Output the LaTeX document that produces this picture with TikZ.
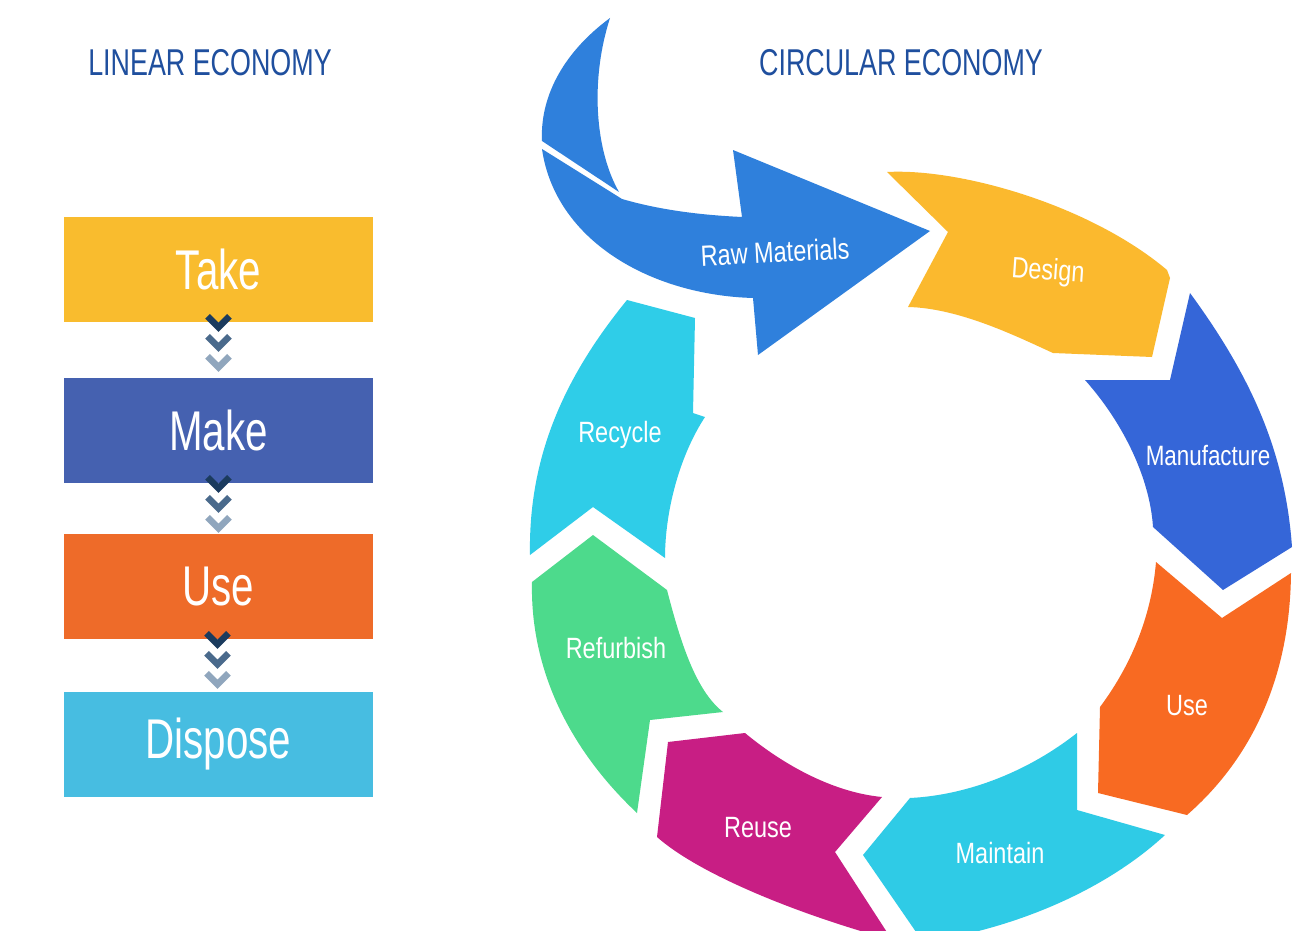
\documentclass[tikz,border=0pt]{standalone}
\usepackage{fontspec}
\setmainfont{Liberation Sans}
\newfontfamily\condA[FakeStretch=0.72]{Liberation Sans}
\newfontfamily\condB[FakeStretch=0.8]{Liberation Sans}
\usetikzlibrary{calc}
\definecolor{titlec}{HTML}{1F4F9E}
\definecolor{takec}{HTML}{F9BC2E}
\definecolor{makec}{HTML}{4561B0}
\definecolor{usebc}{HTML}{EE6B29}
\definecolor{disposec}{HTML}{47BDE1}
\definecolor{rawc}{HTML}{2F80DC}
\definecolor{designc}{HTML}{FBB92E}
\definecolor{manuc}{HTML}{3566D8}
\definecolor{usec}{HTML}{F86A22}
\definecolor{maintc}{HTML}{2FCBE6}
\definecolor{reusec}{HTML}{C81E84}
\definecolor{refurbc}{HTML}{4DDA8C}
\definecolor{recyc}{HTML}{2FCDE8}
\definecolor{chevA}{HTML}{1B3B5E}
\definecolor{chevB}{HTML}{4A6A8C}
\definecolor{chevC}{HTML}{90A6BD}
\tikzset{
  box/.style={minimum width=231.75pt, minimum height=78.75pt, inner sep=0pt,
    text=white, font=\condA\fontsize{42pt}{42pt}\selectfont},
  titletext/.style={text=titlec, inner sep=0pt, font=\condA\fontsize{28pt}{28pt}\selectfont},
  clabel/.style={text=white, inner sep=0pt, font=\condB\fontsize{22pt}{22pt}\selectfont},
  chevline/.style={line width=5pt, line cap=butt, line join=miter},
  chevrons/.pic={
    \draw[chevline, chevA] (-11,-6) -- (0,5) -- (11,-6);
    \draw[chevline, chevB] (-11,14) -- (0,25) -- (11,14);
    \draw[chevline, chevC] (-11,34) -- (0,45) -- (11,34);
  }
}
\begin{document}
\begin{tikzpicture}[x=0.75pt,y=-0.75pt]
\useasboundingbox (0,0) rectangle (1303,931);
\fill[white] (0,0) rectangle (1303,931);

% ---------- Linear economy ----------
\node[titletext] (lintitle) at (210,63) {LINEAR ECONOMY};
\node[box, fill=takec] (take) at (218.5,269.5) {Take};
\node[box, fill=makec] (make) at (218.5,430.5) {Make};
\node[box, fill=usebc] (use) at (218.5,586.5) {Use};
\node[box, fill=disposec] (dispose) at (218.5,744.5) {Dispose};
\pic at ($(take.south)+(0,0)$) {chevrons};
\pic at ($(make.south)+(0,0)$) {chevrons};
\pic at ($(use.south)+(-1,0)$) {chevrons};

% ---------- Circular economy ----------
\node[titletext] (circtitle) at (901,63) {CIRCULAR ECONOMY};

\begin{scope}
\clip (0,0) rectangle (1303,931);
% raw materials crescent
\fill[rawc] (610,18) .. controls (560,55) and (540,100) .. (542,141)
  -- (619,192) .. controls (595,150) and (590,80) .. (610,18) -- cycle;
% raw materials body
\fill[rawc] (542,149) .. controls (555,240) and (650,295) .. (753,298)
  -- (758,355) -- (930,231) -- (733,150) -- (742,217)
  .. controls (700,215) and (660,210) .. (622,199) -- cycle;
% design
\fill[designc] (887,172) .. controls (960,168) and (1090,205) .. (1167,270)
  -- (1170,278) -- (1152,357) -- (1053,353)
  .. controls (1020,338) and (960,308) .. (908,307) -- (948,232) -- cycle;
% manufacture
\fill[manuc] (1190,293) -- (1170,380) -- (1085,380)
  .. controls (1125,425) and (1150,480) .. (1153,527)
  -- (1223,590) -- (1292,547)
  .. controls (1285,450) and (1250,375) .. (1190,293) -- cycle;
% use
\fill[usec] (1156,562) -- (1222,618) -- (1291,573)
  .. controls (1290,680) and (1250,760) .. (1187,815)
  -- (1098,793) -- (1100,707)
  .. controls (1135,660) and (1152,610) .. (1156,562) -- cycle;
% maintain
\fill[maintc] (1077,733) -- (1077,810) -- (1165,835)
  .. controls (1100,895) and (1000,935) .. (900,945)
  -- (925,945) -- (863,855) -- (910,798)
  .. controls (970,795) and (1030,770) .. (1077,733) -- cycle;
% reuse
\fill[reusec] (668,742) -- (745,733)
  .. controls (780,762) and (830,792) .. (882,797)
  -- (835,852) -- (892,940)
  .. controls (800,915) and (700,875) .. (657,837) -- cycle;
% refurbish
\fill[refurbc] (593,535) -- (667,590)
  .. controls (680,640) and (695,690) .. (723,712)
  -- (650,720) -- (637,813)
  .. controls (570,750) and (530,670) .. (532,582) -- cycle;
% recycle
\fill[recyc] (627,300) -- (695,318) -- (693,413) -- (705,417)
  .. controls (680,455) and (665,510) .. (665,558)
  -- (593,507) -- (530,555)
  .. controls (528,450) and (570,370) .. (627,300) -- cycle;
\end{scope}

\node[clabel, rotate=3] (rawlbl) at (775,252) {Raw Materials};
\node[clabel, rotate=-4] (designlbl) at (1048,272) {Design};
\node[clabel, font=\condB\fontsize{21pt}{21pt}\selectfont] (manulbl) at (1208,456) {Manufacture};
\node[clabel] (uselbl) at (1187,706) {Use};
\node[clabel] (maintlbl) at (1000,853) {Maintain};
\node[clabel] (reuselbl) at (758,828) {Reuse};
\node[clabel] (refurblbl) at (616,648) {Refurbish};
\node[clabel] (recylbl) at (620,435) {Recycle};
\end{tikzpicture}
\end{document}
